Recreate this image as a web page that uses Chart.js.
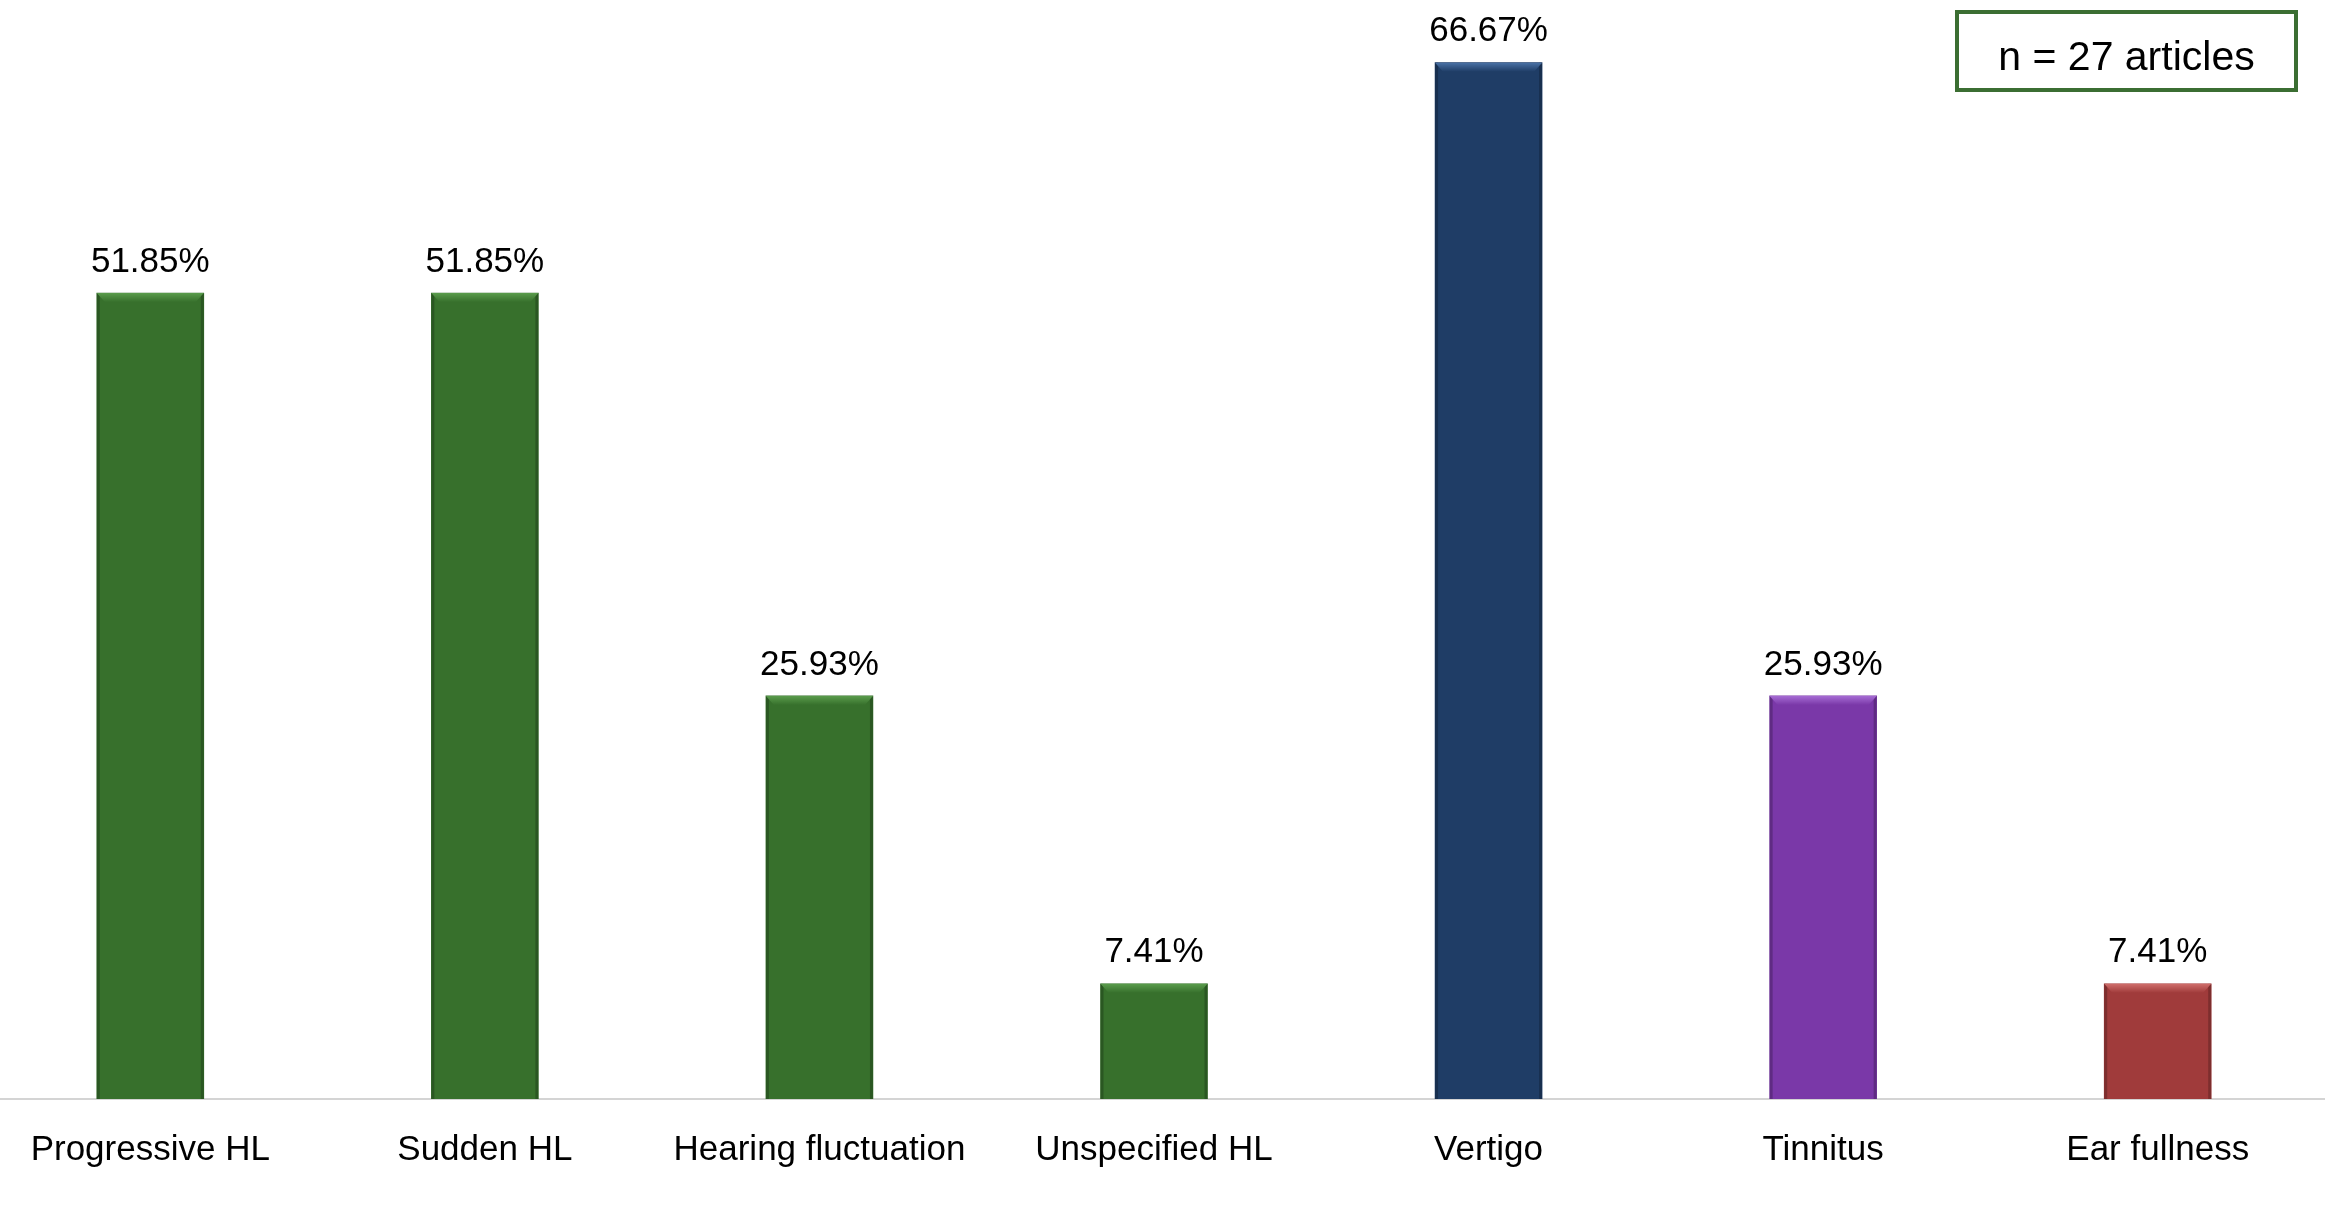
<!DOCTYPE html>
<html>
<head>
<meta charset="utf-8">
<script src="https://cdn.jsdelivr.net/npm/chart.js@4.4.1/dist/chart.umd.min.js"></script>
<style>
  html, body { margin:0; padding:0; background:#fff; overflow:hidden; width:2333px; height:1210px; }
  #wrap { position:absolute; left:-17px; top:0; width:2342px; height:1210px; }
  #nbox { position:absolute; left:1955px; top:10px; width:335px; height:74px; border:4px solid #3b6e32;
          box-sizing:content-box; font-family:"Liberation Sans", Arial, sans-serif; font-size:41px; color:#000;
          text-align:center; line-height:74px; padding-top:0; }
  #nbox span { position:relative; top:5px; }
</style>
</head>
<body>
<div id="wrap"><canvas id="c"></canvas></div>
<div id="nbox"><span>n = 27 articles</span></div>
<script>
const categories = ['Progressive HL', 'Sudden HL', 'Hearing fluctuation', 'Unspecified HL', 'Vertigo', 'Tinnitus', 'Ear fullness'];
const values = [51.85, 51.85, 25.93, 7.41, 66.67, 25.93, 7.41];
const valueLabels = ['51.85%', '51.85%', '25.93%', '7.41%', '66.67%', '25.93%', '7.41%'];
const barColors = ['#37702c', '#37702c', '#37702c', '#37702c', '#1f3d66', '#7a38a8', '#a03b3b'];
const bevelColors = ['#5a9c4c', '#5a9c4c', '#5a9c4c', '#5a9c4c', '#4a72a6', '#a66cd4', '#cf6e6b'];

const FONT = '"Liberation Sans", Arial, sans-serif';

const bevelPlugin = {
  id: 'bevel',
  afterDatasetsDraw(chart) {
    const ctx = chart.ctx;
    const meta = chart.getDatasetMeta(0);
    ctx.save();
    meta.data.forEach((el, i) => {
      const w = el.width;
      const l = el.x - w / 2, r = el.x + w / 2, t = el.y, b = el.base;
      // side darkening
      ctx.fillStyle = 'rgba(0,0,0,0.22)';
      ctx.fillRect(l, t, 3, b - t);
      ctx.fillRect(r - 3, t, 3, b - t);
      // top bevel
      const g = ctx.createLinearGradient(0, t, 0, t + 9);
      g.addColorStop(0, bevelColors[i]);
      g.addColorStop(1, barColors[i]);
      ctx.fillStyle = g;
      ctx.beginPath();
      ctx.moveTo(l, t);
      ctx.lineTo(r, t);
      ctx.lineTo(r - 8, t + 9);
      ctx.lineTo(l + 8, t + 9);
      ctx.closePath();
      ctx.fill();
    });
    // value labels
    ctx.fillStyle = '#000';
    ctx.font = '35px ' + FONT;
    ctx.textAlign = 'center';
    ctx.textBaseline = 'middle';
    meta.data.forEach((el, i) => {
      ctx.fillText(valueLabels[i], el.x, el.y - 31);
    });
    ctx.restore();
  }
};

new Chart(document.getElementById('c'), {
  type: 'bar',
  data: {
    labels: categories,
    datasets: [{
      data: values,
      backgroundColor: barColors,
      borderWidth: 0,
      barThickness: 107
    }]
  },
  options: {
    responsive: true,
    maintainAspectRatio: false,
    animation: false,
    layout: { padding: 0 },
    plugins: { legend: { display: false }, tooltip: { enabled: false } },
    scales: {
      x: {
        type: 'category',
        offset: true,
        grid: { display: false, drawTicks: false },
        border: { display: true, color: '#d4d4d4', width: 2 },
        ticks: { color: '#000', font: { family: FONT, size: 35 }, padding: 30, maxRotation: 0, autoSkip: false },
        afterFit(s) { s.height = 111; }
      },
      y: {
        display: false,
        min: 0,
        max: 70.7
      }
    }
  },
  plugins: [bevelPlugin]
});
</script>
</body>
</html>
